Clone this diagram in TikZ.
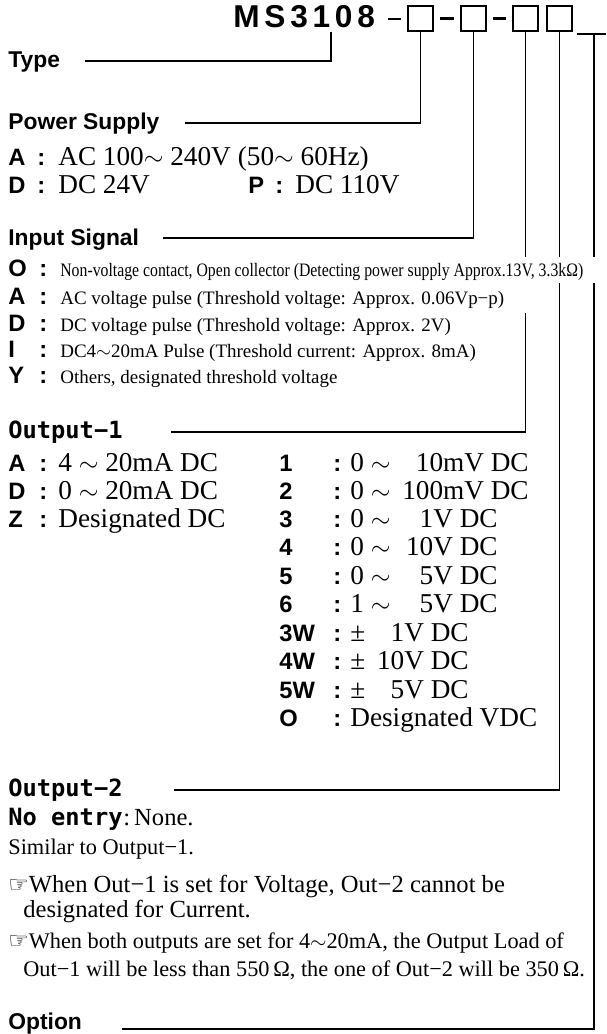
\documentclass[tikz,border=0pt]{standalone}
\usepackage{fontspec}
\setmainfont{Liberation Serif}
\setsansfont{Liberation Sans}
\newfontfamily\gothmono{DejaVu Sans Mono}
\newfontfamily\pointfont{DejaVu Sans}
\usepackage{graphicx}
\tikzset{
  lead/.style      = {line width=0.85pt},
  slot/.style      = {draw, line width=1.1pt, minimum size=0.5cm, inner sep=0pt},
  titledash/.style = {line width=1.4pt},
  headtext/.style  = {font=\sffamily\bfseries\fontsize{13}{16}\selectfont, anchor=base west, inner sep=0pt},
  headmono/.style  = {font=\gothmono\bfseries\fontsize{13.5}{16}\selectfont, anchor=base west, inner sep=0pt},
  keytext/.style   = {font=\sffamily\bfseries\fontsize{13.5}{16}\selectfont, anchor=base west, inner sep=0pt},
  bigtext/.style   = {font=\fontsize{15.5}{18}\selectfont, anchor=base west, inner sep=0pt},
  valtext/.style   = {font=\fontsize{15.5}{18}\selectfont, anchor=base east, inner sep=0pt},
  smalltext/.style = {font=\fontsize{10.8}{13}\selectfont, anchor=base west, inner sep=0pt},
  notetext/.style  = {font=\fontsize{12.7}{15}\selectfont, anchor=base west, inner sep=0pt},
  bignote/.style   = {font=\fontsize{14}{16}\selectfont, anchor=base west, inner sep=0pt},
}
\newcommand{\kc}[2]{\makebox[#1][l]{#2}:}
\newcommand{\hand}{{\pointfont\fontsize{13}{15}\selectfont ☞}}

\begin{document}
\begin{tikzpicture}[x=0.02cm,y=-0.02cm]
  \useasboundingbox (0,0) rectangle (607,1034);

  % model code with the four slots
  \node[font=\sffamily\bfseries\fontsize{18}{20}\selectfont\addfontfeature{LetterSpace=15},
        anchor=base west, inner sep=0pt] (model) at (233,28) {MS3108};
  \node[slot] (bxsupply) at (420.5,18.5) {};
  \node[slot] (bxinput)  at (473.5,18.5) {};
  \node[slot] (bxout1)   at (525.5,18.5) {};
  \node[slot] (bxout2)   at (559.5,18.5) {};
  \draw[titledash] (388,19) -- (401,19);
  \draw[titledash] ([xshift=0.12cm]bxsupply.east) -- ([xshift=-0.12cm]bxinput.west);
  \draw[titledash] ([xshift=0.12cm]bxinput.east) -- ([xshift=-0.12cm]bxout1.west);

  % section headings
  \node[headtext] (lbltype)   at (8,68)   {Type};
  \node[headtext] (lblsupply) at (8,130)  {Power Supply};
  \node[headtext] (lblinput)  at (8,245)  {Input Signal};
  \node[headmono] (lblout1)   at (8,438)  {Output−1};
  \node[headmono] (lblout2)   at (8,796)  {Output−2};
  \node[headtext] (lbloption) at (8,1029) {Option};

  % lead lines
  \coordinate (typetap) at (331,32);
  \coordinate (typeend) at (85,61);
  \coordinate (supplyend) at (185,123);
  \coordinate (inputend) at (163,238);
  \coordinate (out1end) at (171,432);
  \coordinate (out2end) at (174,790);
  \coordinate (optend) at (122,1029);
  \coordinate (optbarL) at (577,34);
  \coordinate (optbarR) at (606,34);
  \coordinate (opttap) at (594,34);
  \coordinate (gaptop) at (0,257);
  \coordinate (gapbotO) at (0,283);
  \coordinate (gapbotA) at (0,313);

  \draw[lead] (typetap) |- (typeend);
  \draw[lead] (bxsupply.south) |- (supplyend);
  \draw[lead] (bxinput.south) |- (inputend);
  \draw[lead] (bxout1.south) -- (bxout1.south |- gaptop);
  \draw[lead] (bxout1.south |- gapbotA) |- (out1end);
  \draw[lead] (bxout2.south) -- (bxout2.south |- gaptop);
  \draw[lead] (bxout2.south |- gapbotO) |- (out2end);
  \draw[lead] (optbarL) -- (optbarR);
  \draw[lead] (opttap) -- (opttap |- gaptop);
  \draw[lead] (opttap |- gapbotO) |- (optend);

  % power supply
  \node[keytext] (psA)  at (8,165)   {\kc{16.5pt}{A}};
  \node[bigtext] (psAt) at (58,165)  {AC 100$\sim$ 240V\hspace{4pt}(50$\sim$ 60Hz)};
  \node[keytext] (psD)  at (8,193)   {\kc{16.5pt}{D}};
  \node[bigtext] (psDt) at (58,193)  {DC 24V};
  \node[keytext] (psP)  at (248,193) {\kc{15.4pt}{P}};
  \node[bigtext] (psPt) at (295,193) {DC 110V};

  % input signal
  \node[keytext]   (inO)  at (8,276)  {\kc{17.6pt}{O}};
  \node[smalltext] (inOt) at (60,276) {\resizebox{10.46cm}{\height}{Non-voltage contact, Open collector (Detecting power supply Approx.13V, 3.3kΩ)}};
  \node[keytext]   (inA)  at (8,304)  {\kc{17.6pt}{A}};
  \node[smalltext] (inAt) at (60,304) {AC voltage pulse (Threshold voltage: Approx. 0.06Vp−p)};
  \node[keytext]   (inD)  at (8,331)  {\kc{17.6pt}{D}};
  \node[smalltext] (inDt) at (60,331) {DC voltage pulse (Threshold voltage: Approx. 2V)};
  \node[keytext]   (inI)  at (8,357)  {\kc{17.6pt}{I}};
  \node[smalltext] (inIt) at (60,357) {DC4$\sim$20mA Pulse (Threshold current: Approx. 8mA)};
  \node[keytext]   (inY)  at (8,383)  {\kc{17.6pt}{Y}};
  \node[smalltext] (inYt) at (60,383) {Others, designated threshold voltage};

  % output-1, current
  \node[keytext] (oaA)  at (8,471)  {\kc{17.6pt}{A}};
  \node[bigtext] (oaAt) at (58,471) {4 $\sim$ 20mA DC};
  \node[keytext] (oaD)  at (8,499)  {\kc{17.6pt}{D}};
  \node[bigtext] (oaDt) at (58,499) {0 $\sim$ 20mA DC};
  \node[keytext] (oaZ)  at (8,527)  {\kc{17.6pt}{Z}};
  \node[bigtext] (oaZt) at (58,527) {Designated DC};

  % output-1, voltage
  \node[keytext] (ov1)  at (279,471) {\kc{30.7pt}{1}};
  \node[bigtext] (ov1a) at (350,471) {0 $\sim$};
  \node[valtext] (ov1b) at (529,471) {10mV DC};
  \node[keytext] (ov2)  at (279,499) {\kc{30.7pt}{2}};
  \node[bigtext] (ov2a) at (350,499) {0 $\sim$};
  \node[valtext] (ov2b) at (529,499) {100mV DC};
  \node[keytext] (ov3)  at (279,527) {\kc{30.7pt}{3}};
  \node[bigtext] (ov3a) at (350,527) {0 $\sim$};
  \node[valtext] (ov3b) at (498,527) {1V DC};
  \node[keytext] (ov4)  at (279,555) {\kc{30.7pt}{4}};
  \node[bigtext] (ov4a) at (350,555) {0 $\sim$};
  \node[valtext] (ov4b) at (498,555) {10V DC};
  \node[keytext] (ov5)  at (279,584) {\kc{30.7pt}{5}};
  \node[bigtext] (ov5a) at (350,584) {0 $\sim$};
  \node[valtext] (ov5b) at (498,584) {5V DC};
  \node[keytext] (ov6)  at (279,612) {\kc{30.7pt}{6}};
  \node[bigtext] (ov6a) at (350,612) {1 $\sim$};
  \node[valtext] (ov6b) at (498,612) {5V DC};
  \node[keytext] (ov3w)  at (279,641) {\kc{30.7pt}{3W}};
  \node[bigtext] (ov3wa) at (350,641) {±};
  \node[valtext] (ov3wb) at (469,641) {1V DC};
  \node[keytext] (ov4w)  at (279,669) {\kc{30.7pt}{4W}};
  \node[bigtext] (ov4wa) at (350,669) {±};
  \node[valtext] (ov4wb) at (469,669) {10V DC};
  \node[keytext] (ov5w)  at (279,698) {\kc{30.7pt}{5W}};
  \node[bigtext] (ov5wa) at (350,698) {±};
  \node[valtext] (ov5wb) at (469,698) {5V DC};
  \node[keytext] (ov0)  at (279,726) {\kc{30.7pt}{O}};
  \node[bigtext] (ov0t) at (350,726) {Designated VDC};

  % output-2
  \node[headmono] (noentry) at (8,825) {No entry};
  \node[bigtext, font=\fontsize{14}{16}\selectfont] (none) at (noentry.base east) {:\,None.};
  \node[notetext] (similar) at (8,854) {Similar to Output−1.};
  \node[bignote]  (noteA)  at (8,892)  {\hand When Out−1 is set for Voltage, Out−2 cannot be};
  \node[bignote]  (noteAb) at (23,917) {designated for Current.};
  \node[notetext] (noteB)  at (8,948)  {\hand When both outputs are set for 4$\sim$20mA, the Output Load of};
  \node[notetext] (noteBb) at (23,976) {Out−1 will be less than 550\,Ω, the one of Out−2 will be 350\,Ω.};
\end{tikzpicture}
\end{document}
